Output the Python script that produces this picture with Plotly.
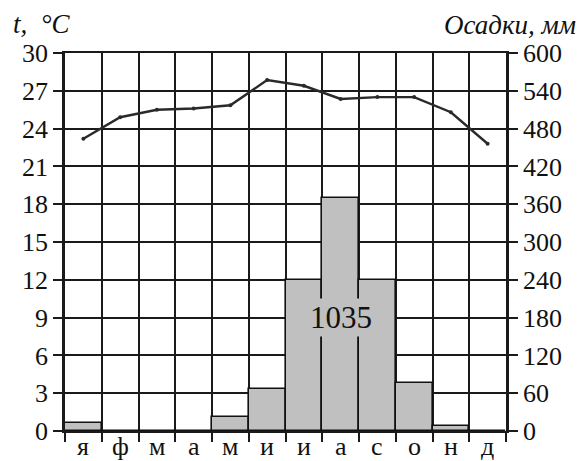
import plotly.graph_objects as go

months = ["я", "ф", "м", "а", "м", "и", "и", "а", "с", "о", "н", "д"]
temperature = [23.2, 24.9, 25.5, 25.6, 25.85, 27.85, 27.4, 26.35, 26.5, 26.5, 25.3, 22.8]
precipitation = [12, 0, 0, 0, 22, 67, 240, 370, 240, 76, 8, 0]
annual_total = "1035"
temp_ticks = list(range(0, 31, 3))
precip_ticks = list(range(0, 601, 60))

x = list(range(len(months)))
bounds = [i - 0.5 for i in range(len(months) + 1)]

FONT = "Liberation Serif"
GRID = "#1a1a1a"
W, H = 581, 461
L, R, T, B = 65, 75, 53, 30
PW, PH = W - L - R, H - T - B


def px_x(sx):
    return (sx - L) / PW


def px_y(sy):
    return (H - B - sy) / PH


fig = go.Figure()
fig.add_trace(go.Bar(
    x=x, y=precipitation, yaxis="y", width=1,
    marker=dict(color="#c0c0c0", line=dict(color="#111", width=1.6)),
    showlegend=False, hoverinfo="skip",
))
fig.add_trace(go.Scatter(
    x=x, y=temperature, yaxis="y2", mode="lines+markers",
    line=dict(color="#2a2a2a", width=2.4), marker=dict(size=4, color="#2a2a2a"),
    showlegend=False,
))

fig.update_layout(
    width=W, height=H,
    margin=dict(l=L, r=R, t=T, b=B, autoexpand=False),
    paper_bgcolor="white", plot_bgcolor="white",
    bargap=0,
    font=dict(family=FONT, size=25, color="#111"),
    xaxis=dict(
        range=[-0.5, 11.5], tickvals=x, ticktext=[""] * len(x), ticks="",
        showgrid=False, zeroline=False, automargin=False,
        showline=True, linecolor=GRID, linewidth=2, mirror=True,
        minor=dict(tickvals=bounds, ticks="outside", ticklen=9, tickwidth=2,
                   tickcolor=GRID, showgrid=True, gridcolor=GRID, gridwidth=1.5),
    ),
    yaxis=dict(
        range=[0, 600], tickvals=precip_ticks, side="right", automargin=False,
        ticks="outside", ticklen=9, tickwidth=2, tickcolor=GRID,
        showgrid=True, gridcolor=GRID, gridwidth=1.5, zeroline=False,
        showline=True, linecolor=GRID, linewidth=2.5,
        tickfont=dict(family=FONT, size=26, color="#111"),
    ),
    yaxis2=dict(
        range=[0, 30], tickvals=temp_ticks, side="left", overlaying="y",
        automargin=False,
        ticks="outside", ticklen=9, tickwidth=2, tickcolor=GRID,
        showgrid=False, zeroline=False,
        showline=True, linecolor=GRID, linewidth=2.5,
        tickfont=dict(family=FONT, size=26, color="#111"),
    ),
)

for xi, label in zip(x, months):
    fig.add_annotation(
        x=xi, y=px_y(446), xref="x", yref="paper", text=label, showarrow=False,
        xanchor="center", yanchor="middle", borderpad=0,
        font=dict(family=FONT, size=26, color="#111"),
    )

fig.add_annotation(
    x=7, y=9, xref="x", yref="y2", text=annual_total, showarrow=False,
    font=dict(family=FONT, size=31, color="#111"), bgcolor="#c0c0c0",
)
fig.add_annotation(
    x=px_x(11), y=px_y(24), xref="paper", yref="paper",
    text="<i>t,  °C</i>", showarrow=False, xanchor="left", yanchor="middle",
    font=dict(family=FONT, size=27, color="#111"),
)
fig.add_annotation(
    x=px_x(578), y=px_y(25), xref="paper", yref="paper",
    text="<i>Осадки, мм</i>", showarrow=False, xanchor="right", yanchor="middle",
    font=dict(family=FONT, size=27, color="#111"),
)

fig.write_html(
    "out.html",
    config={"displayModeBar": False},
    post_script="document.body.style.margin='0px';document.body.style.overflow='hidden';",
)
